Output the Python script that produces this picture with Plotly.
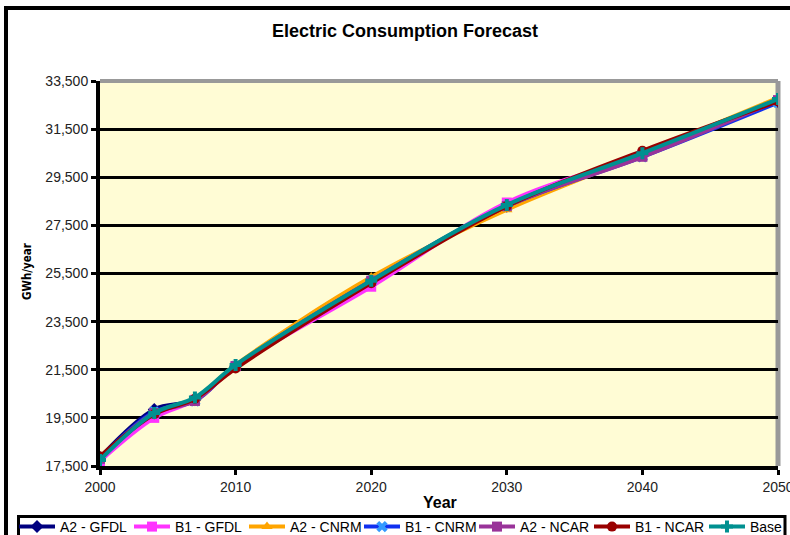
import plotly.graph_objects as go

years = [2000, 2004, 2007, 2010, 2020, 2030, 2040, 2050]

series_names = ["A2 - GFDL", "B1 - GFDL", "A2 - CNRM", "B1 - CNRM", "A2 - NCAR", "B1 - NCAR", "Base"]
a2_gfdl = [17850, 19850, 20250, 21650, 25150, 28300, 30450, 32650]
b1_gfdl = [17700, 19500, 20250, 21650, 24950, 28450, 30450, 32700]
a2_cnrm = [17800, 19700, 20300, 21700, 25350, 28150, 30450, 32800]
b1_cnrm = [17800, 19750, 20200, 21650, 25200, 28300, 30350, 32600]
a2_ncar = [17800, 19700, 20200, 21650, 25200, 28300, 30350, 32700]
b1_ncar = [17900, 19650, 20300, 21550, 25100, 28300, 30600, 32650]
base = [17750, 19700, 20350, 21700, 25200, 28350, 30500, 32750]

values = [a2_gfdl, b1_gfdl, a2_cnrm, b1_cnrm, a2_ncar, b1_ncar, base]
colors = ["#000080", "#FF33FF", "#FFA500", "#1030F0", "#993399", "#990000", "#009090"]
marker_colors = ["#000080", "#FF33FF", "#FFA500", "#3399FF", "#993399", "#990000", "#009090"]
symbols = ["diamond", "square", "triangle-up", "x", "square", "circle", "cross"]
legend_widths = [64, 64, 64, 64, 64, 64, 30]

fig = go.Figure()
for name, vals, c, mc, s, lw in zip(series_names, values, colors, marker_colors, symbols, legend_widths):
    fig.add_trace(go.Scatter(
        x=years, y=vals, name=name, mode="lines+markers",
        line=dict(color=c, width=4, shape="spline"),
        marker=dict(symbol=s, size=10, color=mc),
        legendwidth=lw,
    ))

L, R, T, B = 100, 12, 81, 69
W, H = 790, 535
pw, ph = W - L - R, H - T - B

def px_x(x):
    return (x - L) / pw

def px_y(y):
    return (H - B - y) / ph

fig.update_layout(
    width=W, height=H,
    margin=dict(l=L, r=R, t=T, b=B, autoexpand=False),
    paper_bgcolor="white",
    plot_bgcolor="#FFFCD5",
    font=dict(family="Arial, Liberation Sans, sans-serif", size=14, color="#222222"),
    title=dict(text="<b>Electric Consumption Forecast</b>", x=405 / W, xanchor="center",
               y=1 - 31 / H, yanchor="middle", yref="container", xref="container",
               font=dict(size=18, color="black")),
    showlegend=True,
    legend=dict(orientation="h", x=px_x(14), y=px_y(511), xanchor="left", yanchor="top",
                bgcolor="rgba(0,0,0,0)", borderwidth=0,
                font=dict(size=14, color="black"), entrywidthmode="pixels",
                tracegroupgap=0, itemwidth=36),
    xaxis=dict(range=[2000, 2050], tickvals=[2000, 2010, 2020, 2030, 2040, 2050],
               showgrid=False, zeroline=False, showline=True, linecolor="black", linewidth=4,
               ticks="outside", ticklen=5, tickwidth=3, tickcolor="black",
               ticklabeloverflow="allow"),
    yaxis=dict(range=[17500, 33500], dtick=2000, tick0=17500, tickformat=",d",
               showgrid=True, gridcolor="black", gridwidth=3, zeroline=False,
               showline=True, linecolor="black", linewidth=4,
               ticks="outside", ticklen=5, tickwidth=3, tickcolor="black",
               ticklabeloverflow="allow"),
    annotations=[
        dict(text="<b>Year</b>", x=px_x(440), y=px_y(503), xref="paper", yref="paper",
             showarrow=False, font=dict(size=16, color="black"), xanchor="center", yanchor="middle"),
        dict(text="<b>GWh/year</b>", x=px_x(27), y=px_y(271), xref="paper", yref="paper",
             showarrow=False, textangle=-90,
             font=dict(size=11.5, color="black",
                       family="Liberation Sans Narrow, DejaVu Sans Condensed, Arial Narrow, Arial"),
             xanchor="center", yanchor="middle"),
    ],
    shapes=[
        dict(type="line", xref="paper", yref="paper", x0=0, x1=1, y0=1, y1=1,
             line=dict(color="#999999", width=4), layer="above"),
        dict(type="line", xref="paper", yref="paper", x0=1, x1=1, y0=0, y1=1,
             line=dict(color="#999999", width=5), layer="below"),
        dict(type="rect", xref="paper", yref="paper", x0=px_x(6), x1=px_x(820),
             y0=px_y(560), y1=px_y(8), line=dict(color="black", width=4), layer="below"),
        dict(type="rect", xref="paper", yref="paper", x0=px_x(18.5), x1=px_x(785),
             y0=px_y(560), y1=px_y(516.5), line=dict(color="black", width=3),
             fillcolor="white", layer="above"),
    ],
)

fig.write_html("out.html", config={"displayModeBar": False},
               post_script="document.body.style.margin='0px';document.body.style.overflow='hidden';")
